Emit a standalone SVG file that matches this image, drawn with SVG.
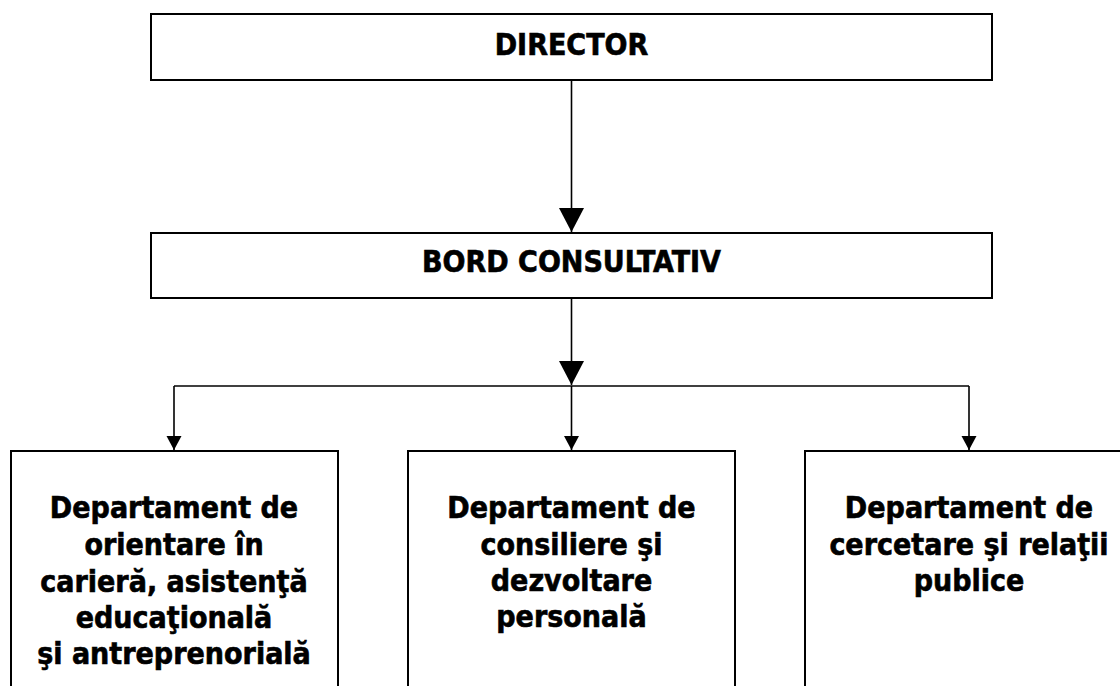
<svg xmlns="http://www.w3.org/2000/svg" width="1120" height="686" viewBox="0 0 1120 686">
  <style>
    .box { fill: #ffffff; stroke: #000000; stroke-width: 2; }
    .conn { fill: none; stroke: #000000; stroke-width: 1.6; }
    .t { font-family: "DejaVu Sans Condensed", "DejaVu Sans", Verdana, sans-serif; font-stretch: condensed; font-weight: bold; font-size: 30px; fill: #000000; stroke: #000000; stroke-width: 0.6; text-anchor: middle; }
  </style>
  <defs>
    <marker id="bigArrow" markerUnits="userSpaceOnUse" markerWidth="25" markerHeight="26" refX="24" refY="12.5" orient="auto">
      <path d="M0,0 L24,12.5 L0,25 Z" fill="#000000"/>
    </marker>
    <marker id="smallArrow" markerUnits="userSpaceOnUse" markerWidth="15" markerHeight="16" refX="14" refY="7.5" orient="auto">
      <path d="M0,0 L14,7.5 L0,15 Z" fill="#000000"/>
    </marker>
  </defs>
  <rect width="1120" height="686" fill="#ffffff"/>

  <g id="connectors">
    <line class="conn" x1="571.5" y1="80" x2="571.5" y2="232" marker-end="url(#bigArrow)"/>
    <line class="conn" x1="571.5" y1="298" x2="571.5" y2="385" marker-end="url(#bigArrow)"/>
    <line class="conn" x1="174" y1="386" x2="969" y2="386"/>
    <line class="conn" x1="174" y1="386" x2="174" y2="450" marker-end="url(#smallArrow)"/>
    <line class="conn" x1="571.5" y1="386" x2="571.5" y2="450" marker-end="url(#smallArrow)"/>
    <line class="conn" x1="969" y1="386" x2="969" y2="450" marker-end="url(#smallArrow)"/>
  </g>

  <g id="director">
    <rect class="box" x="151" y="14" width="841" height="66"/>
    <text class="t" x="571.5" y="55">DIRECTOR</text>
  </g>

  <g id="bord">
    <rect class="box" x="151" y="233" width="841" height="65"/>
    <text class="t" x="571.5" y="272">BORD CONSULTATIV</text>
  </g>

  <g id="dept-orientare">
    <rect class="box" x="11" y="451" width="327" height="260"/>
    <text class="t" x="174" y="518">Departament de</text>
    <text class="t" x="174" y="555">orientare în</text>
    <text class="t" x="174" y="592">carieră, asistenţă</text>
    <text class="t" x="174" y="628">educaţională</text>
    <text class="t" x="174" y="664">şi antreprenorială</text>
  </g>

  <g id="dept-consiliere">
    <rect class="box" x="408" y="451" width="327" height="260"/>
    <text class="t" x="571.5" y="518">Departament de</text>
    <text class="t" x="571.5" y="555">consiliere şi</text>
    <text class="t" x="571.5" y="591">dezvoltare</text>
    <text class="t" x="571.5" y="627">personală</text>
  </g>

  <g id="dept-cercetare">
    <rect class="box" x="805" y="451" width="330" height="260"/>
    <text class="t" x="969" y="518">Departament de</text>
    <text class="t" x="969" y="555">cercetare şi relaţii</text>
    <text class="t" x="969" y="591">publice</text>
  </g>
</svg>
